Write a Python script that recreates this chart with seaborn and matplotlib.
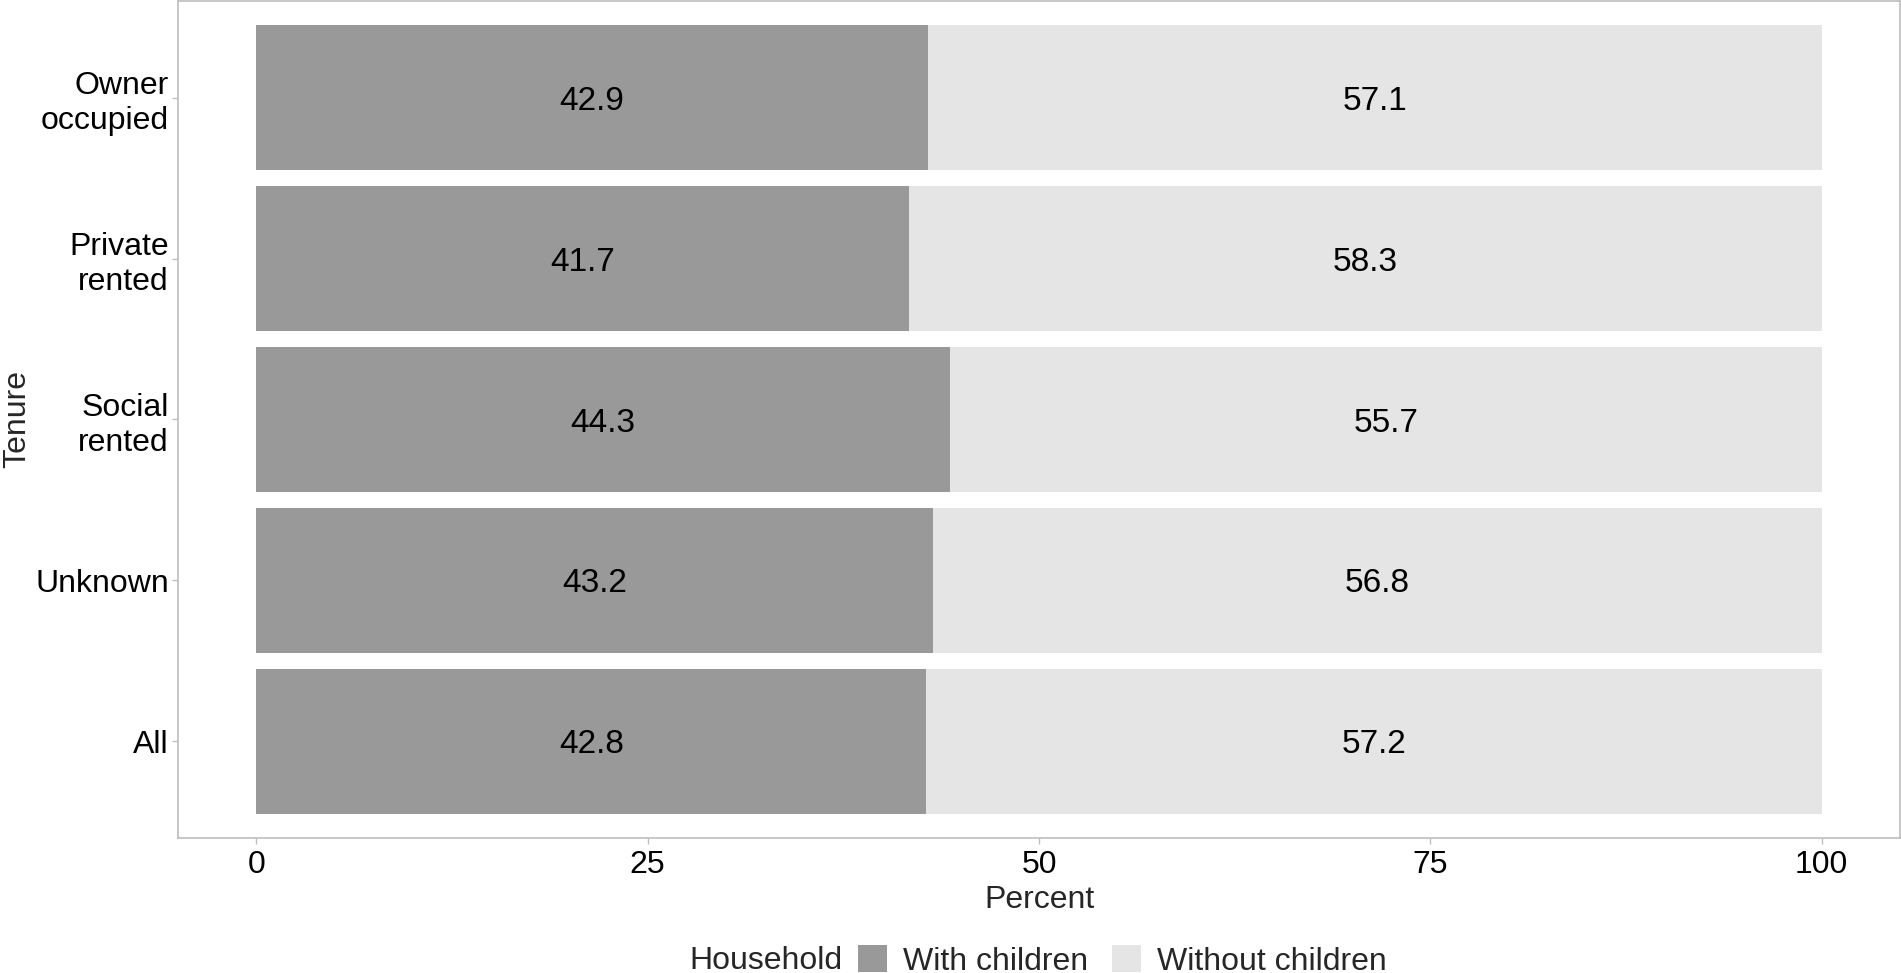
import matplotlib
matplotlib.use("Agg")
import matplotlib.pyplot as plt
from matplotlib.patches import Patch
from matplotlib.transforms import offset_copy
import pandas as pd
import seaborn as sns

# data
tenure = ["Owner\noccupied", "Private\nrented", "Social\nrented", "Unknown", "All"]
with_children = [42.9, 41.7, 44.3, 43.2, 42.8]
without_children = [57.1, 58.3, 55.7, 56.8, 57.2]
x_ticks = [0, 25, 50, 75, 100]

dark = "#999999"
light = "#E5E5E5"
edge = "#BEBEBE"

sns.set_style("white")
plt.rcParams["font.family"] = ["Liberation Sans", "DejaVu Sans"]
fs = 23
fs_bar = 24

df = pd.DataFrame({"Tenure": tenure, "With children": with_children,
                   "Without children": without_children})
df["Total"] = df["With children"] + df["Without children"]

fig = plt.figure(figsize=(19.01, 9.73), dpi=100)
ax = fig.add_axes([178 / 1901, 1 - 838 / 973, (1900 - 178) / 1901, 837 / 973])

# stacked look: full bar in light grey, with-children part drawn on top
sns.barplot(data=df, x="Total", y="Tenure", color=light, width=0.9,
            saturation=1, orient="h", ax=ax, linewidth=0)
sns.barplot(data=df, x="With children", y="Tenure", color=dark, width=0.9,
            saturation=1, orient="h", ax=ax, linewidth=0)

# labels sit a touch lower than matplotlib's centre
lab_tr = offset_copy(ax.transData, fig=fig, y=-3.5, units="dots")
for i, row in df.iterrows():
    ax.text(row["With children"] / 2, i, f'{row["With children"]:.1f}',
            ha="center", va="center", fontsize=fs_bar, color="black",
            transform=lab_tr)
    ax.text(row["With children"] + row["Without children"] / 2, i,
            f'{row["Without children"]:.1f}',
            ha="center", va="center", fontsize=fs_bar, color="black",
            transform=lab_tr)

ax.set_xlim(-5, 105)
ax.set_ylim(len(tenure) - 1 + 0.6, -0.6)
ax.set_xticks(x_ticks)
ax.set_xticklabels([str(t) for t in x_ticks])
ax.tick_params(axis="both", labelsize=fs, colors=edge, labelcolor="black",
               length=4.5, width=1, left=True, bottom=True)
ax.tick_params(axis="y", pad=2)
ax.tick_params(axis="x", pad=4)
for lab in ax.get_yticklabels():
    lab.set_linespacing(1.2)
for s in ax.spines.values():
    s.set_color(edge)
    s.set_linewidth(1.2)
    s.set_visible(True)

ax.set_xlabel("Percent", fontsize=fs, labelpad=4)
ax.set_ylabel("Tenure", fontsize=fs)
ax.yaxis.set_label_coords((32 - 178) / 1722, 0.5)

# legend along the bottom, title on the left
fig.text(689 / 1901, 1 - 961 / 973, "Household", fontsize=fs, ha="left",
         va="center")
handles = [Patch(facecolor=dark, edgecolor="none", label="With children"),
           Patch(facecolor=light, edgecolor="none", label="Without children")]
fig.legend(handles=handles, loc="center left", ncol=2, frameon=False,
           bbox_to_anchor=(858 / 1901, 1 - 961 / 973), fontsize=fs,
           handlelength=0.9, handleheight=0.9, handletextpad=0.5,
           columnspacing=0.75, borderpad=0, borderaxespad=0)

fig.savefig("out.png", dpi=100)
